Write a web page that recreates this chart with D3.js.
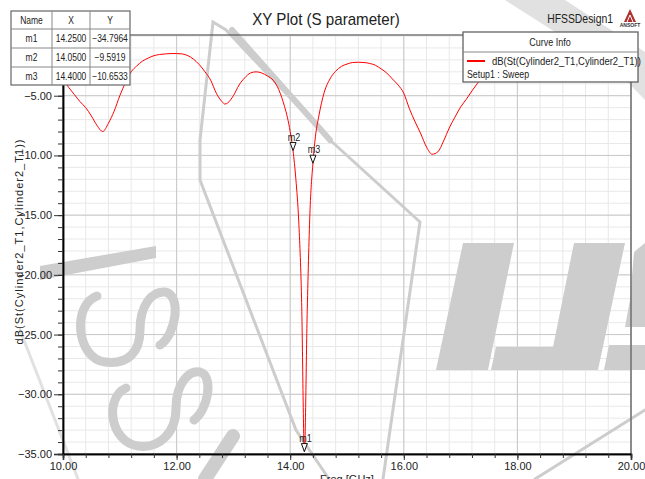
<!DOCTYPE html>
<html>
<head>
<meta charset="utf-8">
<script src="https://cdn.jsdelivr.net/npm/d3@7"></script>
<style>
  body { margin:0; background:#fff; }
  svg { display:block; font-family:"Liberation Sans", Arial, sans-serif; }
</style>
</head>
<body>
<script>
// S11 sweep
var freq = [10.0,10.1,10.2,10.3,10.4,10.5,10.6,10.7,10.8,10.9,11.0,11.1,11.2,11.3,11.4,11.5,11.6,11.7,11.8,11.9,
            12.0,12.1,12.2,12.3,12.4,12.5,12.6,12.7,12.8,12.85,12.9,13.0,13.1,13.2,13.3,13.4,13.5,13.6,13.7,13.8,13.9,13.95,
            14.0,14.05,14.1,14.15,14.2,14.25,14.3,14.35,14.4,14.45,14.5,14.6,14.7,14.8,14.9,15.0,15.1,15.2,15.3,15.4,15.5,
            15.6,15.7,15.8,15.9,16.0,16.1,16.2,16.3,16.4,16.5,16.6,16.7,16.8,16.9,17.0,17.1,17.2,17.3,17.4,17.6,17.8,18.0,
            18.5,19.0,19.5,20.0];
var dbS11 = [-3.6,-4.3,-4.9,-5.5,-6.0,-6.7,-7.5,-8.0,-7.3,-6.3,-5.0,-3.9,-3.0,-2.5,-2.1,-1.85,-1.65,-1.55,-1.5,-1.47,
            -1.47,-1.5,-1.65,-1.95,-2.4,-3.0,-3.7,-4.8,-5.5,-5.7,-5.6,-5.0,-4.1,-3.5,-3.1,-3.0,-3.1,-3.35,-3.7,-4.5,-5.9,-6.8,
            -8.0,-9.59,-12.0,-15.5,-22.0,-34.8,-23.0,-14.5,-10.65,-8.2,-6.8,-4.7,-3.6,-2.95,-2.55,-2.35,-2.22,-2.2,-2.22,-2.3,-2.45,
            -2.75,-3.1,-3.6,-4.1,-4.8,-6.1,-7.2,-8.2,-9.3,-9.9,-9.7,-8.8,-7.7,-6.8,-5.95,-5.3,-4.6,-3.95,-3.4,-2.7,-2.2,-1.9,
            -1.6,-1.6,-1.8,-2.1];

var markerNames = ["m1","m2","m3"];
var markerX = [14.25, 14.05, 14.40];
var markerY = [-34.7964, -9.5919, -10.6533];

var xMajor = [10,12,14,16,18,20];
var yMajor = [-5,-10,-15,-20,-25,-30,-35];

var width = 645, height = 479;
var L = 63, R = 631, T = 36, B = 454;

var svg = d3.select("body").append("svg").attr("width",width).attr("height",height);

var x = d3.scaleLinear().domain([10,20]).range([L,R]);
var y = d3.scaleLinear().domain([-35,0]).range([B,T]);

var xMinor = d3.range(0,26).map(function(i){ return 10 + i*0.4; });
var yMinor = d3.range(-35,1,1);

// narrow text helper (the original uses a condensed face)
function ntext(g, px, py, str, size, sx, anchor){
    return g.append("text").attr("transform","translate("+px+","+py+") scale("+sx+",1)")
        .attr("text-anchor",anchor || "start").attr("font-size",size).attr("fill","#222").text(str);
}

// grid
var grid = svg.append("g");
grid.selectAll(".vx").data(xMinor).enter().append("line")
    .attr("x1",function(d){return x(d);}).attr("x2",function(d){return x(d);})
    .attr("y1",T).attr("y2",B).attr("stroke","#e8e8e8");
grid.selectAll(".hy").data(yMinor).enter().append("line")
    .attr("y1",function(d){return y(d);}).attr("y2",function(d){return y(d);})
    .attr("x1",L).attr("x2",R).attr("stroke","#e8e8e8");
grid.selectAll(".vX").data(xMajor).enter().append("line")
    .attr("x1",function(d){return x(d);}).attr("x2",function(d){return x(d);})
    .attr("y1",T).attr("y2",B).attr("stroke","#c8c8c8");
grid.selectAll(".hY").data(yMajor).enter().append("line")
    .attr("y1",function(d){return y(d);}).attr("y2",function(d){return y(d);})
    .attr("x1",L).attr("x2",R).attr("stroke","#c8c8c8");

// watermark in the background of the screenshot
var wm = svg.append("g").attr("fill","#cdcdcd").attr("stroke","none");
wm.append("path").attr("d","M463,243L514,243L488,370L436,370Z");
wm.append("path").attr("d","M574,243L625,243L598,370L491,370L496,347L553,347Z");
wm.append("path").attr("d","M609,345L645,345L645,370L604,370Z");
wm.append("path").attr("d","M634,252L645,243L645,327L625,327L630,300Z");
wm.append("path").attr("d","M40,266L156,246L156,258L40,280Z");
wm.append("path").attr("d","M505,0L565,0L645,52L645,100L618,72Z").attr("opacity",0.6);
var wl = svg.append("g").attr("fill","none").attr("stroke","#cdcdcd").attr("stroke-linecap","round");
wl.append("path").attr("d","M329,479L296,430L200,180L200,140L213,22L226,30L330,140L420,222L383,479").attr("stroke-width",3);
wl.append("path").attr("d","M232,30L330,140").attr("stroke-width",6);
wl.append("path").attr("d","M97,296C72,305 76,358 105,362C128,365 140,352 140,330C140,305 152,291 165,292C182,295 176,335 160,345").attr("stroke-width",9);
wl.append("path").attr("d","M126,388C104,398 110,442 138,446C160,449 176,432 176,408C176,382 190,370 200,372C214,376 208,410 194,420").attr("stroke-width",9);
wl.append("path").attr("d","M233,436L205,479").attr("stroke-width",14);
wl.append("path").attr("d","M645,410L535,479").attr("stroke-width",3);
wl.append("path").attr("d","M20,330L78,479").attr("stroke-width",3).attr("opacity",0.6);

// frame
svg.append("rect").attr("x",L).attr("y",T-1).attr("width",R-L).attr("height",B-T+1)
    .attr("fill","none").attr("stroke","#555").attr("stroke-width",1.2);

// axes
var fmt = d3.format(".2f");
svg.append("g").attr("transform","translate("+L+",0)")
    .call(d3.axisLeft(y).tickValues(yMajor).tickSize(9).tickPadding(2).tickFormat(fmt));
svg.append("g").attr("transform","translate("+L+",0)")
    .call(d3.axisLeft(y).tickValues(yMinor).tickSize(5).tickFormat(""));
svg.append("g").attr("transform","translate(0,"+B+")")
    .call(d3.axisBottom(x).tickValues(xMajor).tickSize(6).tickPadding(2).tickFormat(fmt));
svg.append("g").attr("transform","translate(0,"+B+")")
    .call(d3.axisBottom(x).tickValues(xMinor).tickSize(4).tickFormat(""));
svg.selectAll(".domain").attr("stroke","#000").attr("stroke-width",1.5);
svg.selectAll(".tick line").attr("stroke","#333");
svg.selectAll(".tick text").attr("font-size",11).attr("fill","#222")
    .attr("font-family","'Liberation Sans', Arial, sans-serif");

svg.append("text").attr("x",(L+R)/2).attr("y",483).attr("text-anchor","middle")
    .attr("font-size",11).attr("fill","#222").text("Freq [GHz]");
svg.append("text").attr("transform","translate(23,242) rotate(-90)").attr("text-anchor","middle")
    .attr("font-size",11).attr("fill","#222").attr("textLength",205).attr("lengthAdjust","spacing")
    .text("dB(St(Cylinder2_T1,Cylinder2_T1))");

// curve
var pts = freq.map(function(f,i){ return [f, dbS11[i]]; });
svg.append("path").datum(pts)
    .attr("fill","none").attr("stroke","#ff0000").attr("stroke-width",1)
    .attr("d", d3.line().x(function(d){return x(d[0]);}).y(function(d){return y(d[1]);}).curve(d3.curveMonotoneX));

// markers
var mk = svg.append("g");
markerNames.forEach(function(n,i){
    var px = x(markerX[i]), py = y(markerY[i]);
    mk.append("path").attr("d","M"+(px-3)+","+(py-8)+"L"+(px+3)+","+(py-8)+"L"+px+","+py+"Z")
        .attr("fill","#fff").attr("stroke","#111").attr("stroke-width",1);
    ntext(mk, px+1, py-10, n, 10, 0.9, "middle");
});

// title
ntext(svg, 326, 25, "XY Plot (S parameter)", 17, 0.89, "middle");
ntext(svg, 613, 23, "HFSSDesign1", 13, 0.8, "end");
// ansoft logo
var logo = svg.append("g");
logo.append("path").attr("d","M624,22 L630,9 L636,22 Z").attr("fill","#b03030");
logo.append("path").attr("d","M627,22 L630,15 L633,22").attr("fill","none").attr("stroke","#fff").attr("stroke-width",1);
logo.append("text").attr("x",630).attr("y",27).attr("text-anchor","middle").attr("font-size",5)
    .attr("font-weight","bold").attr("fill","#333").text("ANSOFT");

// marker table
var tbl = svg.append("g");
var cols = [11,52,90,130], rows = [11,29,48,67,85];
tbl.append("rect").attr("x",11).attr("y",11).attr("width",119).attr("height",74)
    .attr("fill","#fff").attr("stroke","#666").attr("stroke-width",1.2);
cols.slice(1,3).forEach(function(c){
    tbl.append("line").attr("x1",c).attr("x2",c).attr("y1",11).attr("y2",85).attr("stroke","#888");
});
rows.slice(1,4).forEach(function(r){
    tbl.append("line").attr("y1",r).attr("y2",r).attr("x1",11).attr("x2",130).attr("stroke","#888");
});
var tableRows = [["Name","X","Y"]].concat(markerNames.map(function(n,i){
    return [n, d3.format(".4f")(markerX[i]), d3.format(".4f")(markerY[i])];
}));
tableRows.forEach(function(r,ri){
    r.forEach(function(t,ci){
        ntext(tbl, (cols[ci]+cols[ci+1])/2, (rows[ri]+rows[ri+1])/2+3.5, t, 10, 0.85, "middle");
    });
});

// curve info legend
var lg = svg.append("g");
lg.append("rect").attr("x",463).attr("y",32).attr("width",175).attr("height",50)
    .attr("fill","#fff").attr("stroke","#555").attr("stroke-width",1.2);
lg.append("line").attr("x1",463).attr("x2",638).attr("y1",52).attr("y2",52).attr("stroke","#888");
ntext(lg, 550, 46, "Curve Info", 10, 0.9, "middle");
lg.append("line").attr("x1",467).attr("x2",485).attr("y1",61).attr("y2",61).attr("stroke","#ff0000").attr("stroke-width",2);
ntext(lg, 492, 65, "dB(St(Cylinder2_T1,Cylinder2_T1))", 10, 0.95);
ntext(lg, 467, 78, "Setup1 : Sweep", 10, 0.88);
</script>
</body>
</html>
